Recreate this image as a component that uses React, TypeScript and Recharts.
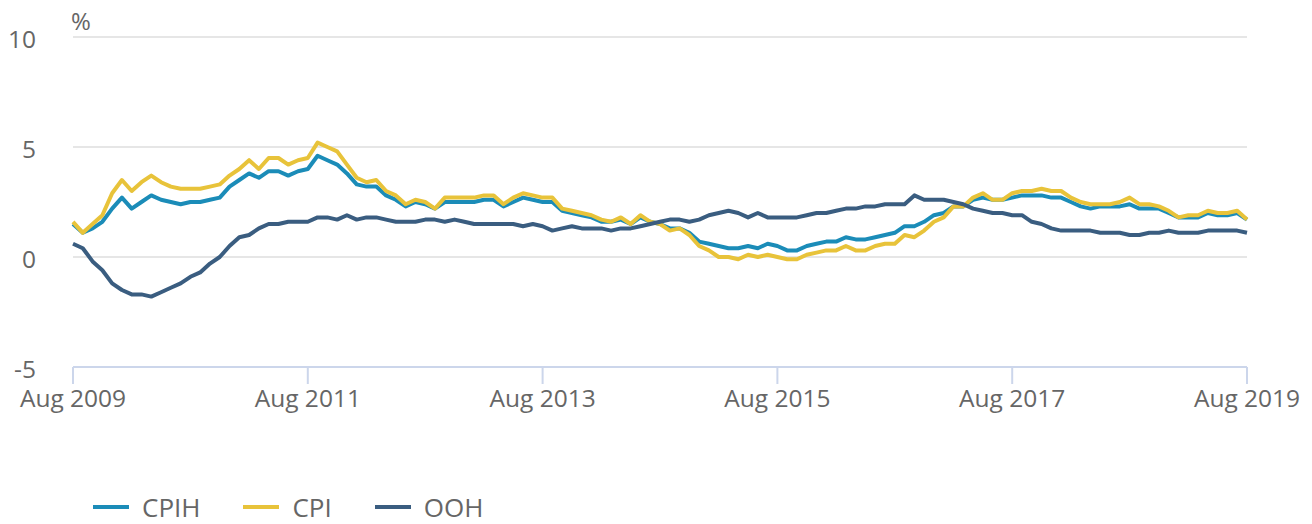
import React from 'react';
import { LineChart, Line, XAxis, YAxis, CartesianGrid } from 'recharts';

const MONTH_NAMES = ['Jan', 'Feb', 'Mar', 'Apr', 'May', 'Jun', 'Jul', 'Aug', 'Sep', 'Oct', 'Nov', 'Dec'];

// Monthly categories: Aug 2009 .. Aug 2019
const MONTH_LABELS: string[] = [];
for (let i = 0; i < 121; i++) {
  const m = (7 + i) % 12;
  const y = 2009 + Math.floor((7 + i) / 12);
  MONTH_LABELS.push(`${MONTH_NAMES[m]} ${y}`);
}

const X_TICK_LABELS = ['Aug 2009', 'Aug 2011', 'Aug 2013', 'Aug 2015', 'Aug 2017', 'Aug 2019'];
const Y_TICKS = [-5, 0, 5, 10];
const Y_UNIT = '%';

const CPIH = [
  1.5, 1.1, 1.3, 1.6, 2.2,
  2.7, 2.2, 2.5, 2.8, 2.6, 2.5, 2.4, 2.5, 2.5, 2.6, 2.7, 3.2,
  3.5, 3.8, 3.6, 3.9, 3.9, 3.7, 3.9, 4.0, 4.6, 4.4, 4.2, 3.8,
  3.3, 3.2, 3.2, 2.8, 2.6, 2.3, 2.5, 2.4, 2.2, 2.5, 2.5, 2.5,
  2.5, 2.6, 2.6, 2.3, 2.5, 2.7, 2.6, 2.5, 2.5, 2.1, 2.0, 1.9,
  1.8, 1.6, 1.6, 1.7, 1.5, 1.8, 1.6, 1.5, 1.3, 1.3, 1.1, 0.7,
  0.6, 0.5, 0.4, 0.4, 0.5, 0.4, 0.6, 0.5, 0.3, 0.3, 0.5, 0.6,
  0.7, 0.7, 0.9, 0.8, 0.8, 0.9, 1.0, 1.1, 1.4, 1.4, 1.6, 1.9,
  2.0, 2.3, 2.3, 2.6, 2.7, 2.6, 2.6, 2.7, 2.8, 2.8, 2.8, 2.7,
  2.7, 2.5, 2.3, 2.2, 2.3, 2.3, 2.3, 2.4, 2.2, 2.2, 2.2, 2.0,
  1.8, 1.8, 1.8, 2.0, 1.9, 1.9, 2.0, 1.7,
];

const CPI = [
  1.6, 1.1, 1.5, 1.9, 2.9,
  3.5, 3.0, 3.4, 3.7, 3.4, 3.2, 3.1, 3.1, 3.1, 3.2, 3.3, 3.7,
  4.0, 4.4, 4.0, 4.5, 4.5, 4.2, 4.4, 4.5, 5.2, 5.0, 4.8, 4.2,
  3.6, 3.4, 3.5, 3.0, 2.8, 2.4, 2.6, 2.5, 2.2, 2.7, 2.7, 2.7,
  2.7, 2.8, 2.8, 2.4, 2.7, 2.9, 2.8, 2.7, 2.7, 2.2, 2.1, 2.0,
  1.9, 1.7, 1.6, 1.8, 1.5, 1.9, 1.6, 1.5, 1.2, 1.3, 1.0, 0.5,
  0.3, 0.0, 0.0, -0.1, 0.1, 0.0, 0.1, 0.0, -0.1, -0.1, 0.1, 0.2,
  0.3, 0.3, 0.5, 0.3, 0.3, 0.5, 0.6, 0.6, 1.0, 0.9, 1.2, 1.6,
  1.8, 2.3, 2.3, 2.7, 2.9, 2.6, 2.6, 2.9, 3.0, 3.0, 3.1, 3.0,
  3.0, 2.7, 2.5, 2.4, 2.4, 2.4, 2.5, 2.7, 2.4, 2.4, 2.3, 2.1,
  1.8, 1.9, 1.9, 2.1, 2.0, 2.0, 2.1, 1.7,
];

const OOH = [
  0.6, 0.4, -0.2, -0.6, -1.2,
  -1.5, -1.7, -1.7, -1.8, -1.6, -1.4, -1.2, -0.9, -0.7, -0.3, 0.0, 0.5,
  0.9, 1.0, 1.3, 1.5, 1.5, 1.6, 1.6, 1.6, 1.8, 1.8, 1.7, 1.9,
  1.7, 1.8, 1.8, 1.7, 1.6, 1.6, 1.6, 1.7, 1.7, 1.6, 1.7, 1.6,
  1.5, 1.5, 1.5, 1.5, 1.5, 1.4, 1.5, 1.4, 1.2, 1.3, 1.4, 1.3,
  1.3, 1.3, 1.2, 1.3, 1.3, 1.4, 1.5, 1.6, 1.7, 1.7, 1.6, 1.7,
  1.9, 2.0, 2.1, 2.0, 1.8, 2.0, 1.8, 1.8, 1.8, 1.8, 1.9, 2.0,
  2.0, 2.1, 2.2, 2.2, 2.3, 2.3, 2.4, 2.4, 2.4, 2.8, 2.6, 2.6,
  2.6, 2.5, 2.4, 2.2, 2.1, 2.0, 2.0, 1.9, 1.9, 1.6, 1.5, 1.3,
  1.2, 1.2, 1.2, 1.2, 1.1, 1.1, 1.1, 1.0, 1.0, 1.1, 1.1, 1.2,
  1.1, 1.1, 1.1, 1.2, 1.2, 1.2, 1.2, 1.1,
];

const SERIES = [
  { key: 'CPIH', name: 'CPIH', color: '#1b8cb8' },
  { key: 'CPI', name: 'CPI', color: '#e8c33a' },
  { key: 'OOH', name: 'OOH', color: '#3a5d80' },
];

const data = MONTH_LABELS.map((label, i) => ({
  idx: i,
  label,
  CPIH: CPIH[i],
  CPI: CPI[i],
  OOH: OOH[i],
}));

const X_TICKS = X_TICK_LABELS.map((l) => MONTH_LABELS.indexOf(l));

const FONT = '"Open Sans", sans-serif';
const TEXT_COLOR = '#666666';
const AXIS_COLOR = '#ccd6eb';

const YTick = (props: any) => {
  const { x, y, payload } = props;
  return (
    <text x={x} y={y} dy={11} textAnchor="end" fill={TEXT_COLOR} fontSize={24.5} fontFamily={FONT}>
      {payload.value}
    </text>
  );
};

const XTick = (props: any) => {
  const { x, y, payload } = props;
  return (
    <text x={x} y={y} dy={23} textAnchor="middle" fill={TEXT_COLOR} fontSize={24.5} fontFamily={FONT}>
      {MONTH_LABELS[payload.value]}
    </text>
  );
};

export default function App() {
  return (
    <div style={{ position: 'absolute', left: 0, top: 0, width: 1312, height: 524, background: '#fff', overflow: 'hidden' }}>
      <LineChart
        width={1312}
        height={524}
        data={data}
        margin={{ top: 37, right: 65, left: 0, bottom: 127 }}
      >
        <CartesianGrid vertical={false} stroke="#e6e6e6" strokeWidth={2} />
        <XAxis
          dataKey="idx"
          type="number"
          domain={[0, 120]}
          ticks={X_TICKS}
          interval={0}
          height={30}
          tickSize={17}
          tickMargin={0}
          axisLine={{ stroke: AXIS_COLOR, strokeWidth: 2 }}
          tickLine={{ stroke: AXIS_COLOR, strokeWidth: 2 }}
          tick={<XTick />}
        />
        <YAxis
          domain={[-5, 10]}
          ticks={Y_TICKS}
          interval={0}
          width={73}
          axisLine={false}
          tickLine={false}
          tickSize={0}
          tickMargin={37}
          tick={<YTick />}
        />
        {SERIES.map((s) => (
          <Line
            key={s.key}
            type="linear"
            dataKey={s.key}
            name={s.name}
            stroke={s.color}
            strokeWidth={4}
            strokeLinejoin="round"
            dot={false}
            activeDot={false}
            isAnimationActive={false}
          />
        ))}
      </LineChart>
      <div
        style={{
          position: 'absolute',
          left: 71,
          top: 9,
          fontFamily: FONT,
          fontSize: 24,
          lineHeight: '24px',
          color: TEXT_COLOR,
        }}
      >
        {Y_UNIT}
      </div>
      <div
        style={{
          position: 'absolute',
          left: 93,
          top: 490,
          height: 34,
          display: 'flex',
          alignItems: 'center',
          fontFamily: FONT,
          fontSize: 26,
          lineHeight: '34px',
          color: TEXT_COLOR,
          whiteSpace: 'nowrap',
        }}
      >
        {SERIES.map((s) => (
          <div key={s.key} style={{ display: 'flex', alignItems: 'center', marginRight: 43, height: 34 }}>
            <span style={{ display: 'inline-block', width: 36, height: 4, background: s.color, marginRight: 13 }} />
            <span>{s.name}</span>
          </div>
        ))}
      </div>
    </div>
  );
}
